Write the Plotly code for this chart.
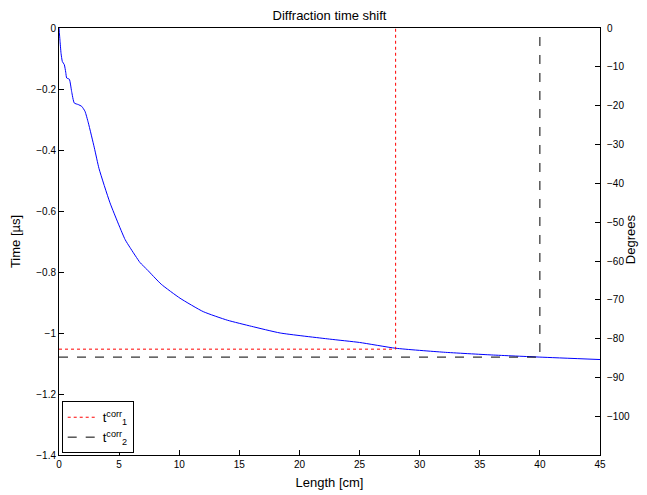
import plotly.graph_objects as go

# Curve: diffraction time shift
length_cm = [0, 0.08, 0.17, 0.28, 0.44, 0.56, 0.64, 0.86, 1.05, 1.27, 1.6, 1.89, 2.16, 2.44,
             2.94, 3.33, 4.24, 5.49, 5.91, 6.74, 7.3, 8.5, 10.07, 12, 14, 16, 18.4, 22.5,
             25, 28, 32, 36, 40, 45]
time_us = [0, -0.04, -0.083, -0.11, -0.12, -0.145, -0.164, -0.168, -0.208, -0.246, -0.251,
           -0.257, -0.273, -0.311, -0.393, -0.461, -0.573, -0.693, -0.720, -0.769, -0.791,
           -0.84, -0.886, -0.93, -0.958, -0.978, -1.0, -1.02, -1.031, -1.05, -1.063, -1.072,
           -1.079, -1.087]

# Correction markers
t1_corr = -1.053
L1 = 28
t2_corr = -1.079
L2 = 40

# Axes
y_ticks = [0, -0.2, -0.4, -0.6, -0.8, -1, -1.2, -1.4]
deg_ticks = [0, -10, -20, -30, -40, -50, -60, -70, -80, -90, -100]
x_ticks = [0, 5, 10, 15, 20, 25, 30, 35, 40, 45]
deg_per_us = 78.5  # degrees per microsecond (right axis scale)

FONT = "Liberation Sans, Arial, Helvetica, sans-serif"

fig = go.Figure()
fig.add_trace(go.Scatter(x=length_cm, y=time_us, mode="lines",
                         line=dict(color="#0000ff", width=1, shape="spline", smoothing=0.5),
                         showlegend=False, hoverinfo="skip"))
fig.add_trace(go.Scatter(x=[0, L1, L1], y=[t1_corr, t1_corr, 0], mode="lines",
                         line=dict(color="#ff0000", width=1, dash="dot"),
                         name="t<sup>corr</sup><sub>1</sub>"))
fig.add_trace(go.Scatter(x=[0, L2, L2], y=[t2_corr, t2_corr, 0], mode="lines",
                         line=dict(color="#000000", width=1, dash="dash"),
                         name="t<sup>corr</sup><sub>2</sub>"))
# helper trace on the degrees axis (invisible)
fig.add_trace(go.Scatter(x=length_cm, y=[v * deg_per_us for v in time_us], mode="lines",
                         line=dict(color="rgba(0,0,0,0)", width=0), yaxis="y2",
                         showlegend=False, hoverinfo="skip"))

fig.update_layout(
    width=647, height=495,
    margin=dict(l=51, r=55, t=20, b=48, autoexpand=False),
    paper_bgcolor="white", plot_bgcolor="white",
    font=dict(family=FONT, size=10, color="black"),
    title=dict(text="Diffraction time shift", x=0.5, xref="paper", xanchor="center",
               y=1, yref="paper", yanchor="bottom", pad=dict(b=8),
               font=dict(size=13, family=FONT, color="black")),
    xaxis=dict(range=[0, 45], tickvals=x_ticks, ticks="inside", ticklen=5,
               tickcolor="black", showline=True, linecolor="black", linewidth=1,
               mirror=True, showgrid=False, zeroline=False, automargin=False,
               title=dict(text="Length [cm]", font=dict(size=13), standoff=8),
               tickfont=dict(size=10)),
    yaxis=dict(range=[-1.4, 0], tickvals=y_ticks, ticks="inside",
               ticklen=5, tickcolor="black", showline=True, linecolor="black",
               linewidth=1, mirror=False, showgrid=False, zeroline=False, automargin=False,
               title=dict(text="Time [\u00b5s]", font=dict(size=13), standoff=16),
               tickfont=dict(size=10)),
    yaxis2=dict(range=[-1.4 * deg_per_us, 0], tickvals=deg_ticks,
                overlaying="y", side="right", ticks="inside", ticklen=5,
                tickcolor="black", showline=True, linecolor="black", linewidth=1,
                showgrid=False, zeroline=False, automargin=False, tickfont=dict(size=10),
                ticklabelstandoff=4),
    legend=dict(x=0.005, y=0.004, xanchor="left", yanchor="bottom",
                bgcolor="white", bordercolor="black", borderwidth=1,
                font=dict(size=13), tracegroupgap=0, itemwidth=30),
    annotations=[dict(text="Degrees", xref="paper", yref="paper", x=1.057, y=0.505,
                      xanchor="center", yanchor="middle", textangle=-90,
                      showarrow=False, font=dict(size=13, family=FONT))],
)

fig.write_html("out.html")
